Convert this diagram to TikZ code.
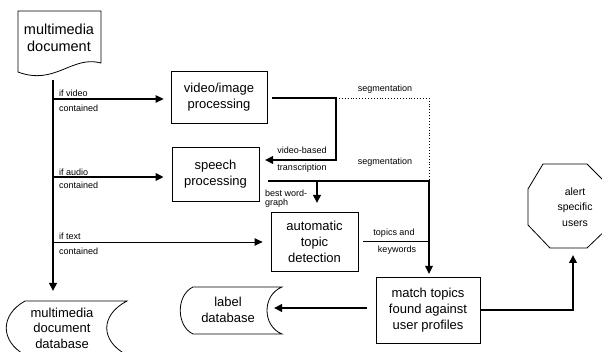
\documentclass[tikz,border=0pt]{standalone}
\usepackage{fontspec}
\setmainfont{Liberation Sans}
\usetikzlibrary{arrows.meta,calc}
\tikzset{
  box/.style={draw, line width=0.8pt, minimum width=#1, align=center, inner sep=0pt, font=\fontsize{13}{16}\selectfont},
  lbl/.style={font=\fontsize{9}{10}\selectfont, inner sep=0pt},
  big/.style={font=\fontsize{14.5}{17}\selectfont, align=center, inner sep=0pt},
  mid/.style={font=\fontsize{13}{15.5}\selectfont, align=center, inner sep=0pt},
  tip/.style={-{Triangle[length=8pt,width=7.5pt]}},
  thick2/.style={line width=2pt},
  thick1/.style={line width=1.3pt},
  thin1/.style={line width=0.9pt},
  outline/.style={draw, line width=0.8pt},
}
\begin{document}
\begin{tikzpicture}[x=1pt,y=-1pt]
\useasboundingbox (0,0) rectangle (602,352);
\clip (0,0) rectangle (602,352);
% multimedia document (document shape)
\draw[outline] (18,11) -- (101,11) -- (101,63) .. controls (72,55) and (55,86) .. (18,72) -- cycle;
\node[big] (doc) at (59,38) {multimedia\\document};
\coordinate (docbot) at (53,80);
% boxes
\node[box=96pt, minimum height=52pt] (vid) at (219,97) {video/image\\processing};
\node[box=87pt, minimum height=54pt] (sp) at (215.5,174) {speech\\processing};
\node[box=87pt, minimum height=59pt] (top) at (314.5,241.5) {automatic\\topic\\detection};
\node[box=104pt, minimum height=66pt] (match) at (428,310) {match topics\\found against\\user profiles};
% label database (stored data)
\draw[outline] (193,287) -- (282,287) .. controls (262,295) and (262,326) .. (282,334) -- (193,334) .. controls (176,326) and (176,295) .. (193,287);
\node[mid] (labeldb) at (228,310) {label\\database};
% multimedia document database
\draw[outline] (25,301) -- (127,301) .. controls (100,315) and (100,341) .. (127,355) -- (25,355) .. controls (0,341) and (0,315) .. (25,301);
\node[mid] (mmdb) at (62,328) {multimedia\\document\\database};
% octagon
\draw[outline] (543,164) -- (587,164) -- (611,188) -- (611,225) -- (587,248) -- (550,248) -- (528,225) -- (528,189) -- cycle;
\node[font=\fontsize{10.5}{15.5}\selectfont, align=center, inner sep=0pt] (alert) at (575,207) {alert\\specific\\users};
% coordinates
\coordinate (mainend) at (53,291);
\coordinate (vb) at (53,99);
\coordinate (ab) at (53,177);
\coordinate (tb) at (53,242);
\coordinate (vidout) at (272,98);
\coordinate (vturn) at (336,98);
\coordinate (vdown) at (336,160);
\coordinate (vtip) at (265,160);
\coordinate (segcorner) at (429,98);
\coordinate (segend) at (429,181);
\coordinate (spout) at (268,181);
\coordinate (spcorner) at (429,181);
\coordinate (matchtip) at (429,274);
\coordinate (bwstart) at (317,181);
\coordinate (bwtip) at (317,203);
\coordinate (topout) at (363,241);
\coordinate (topjoin) at (429,241);
\coordinate (mleft) at (367,308);
\coordinate (ldbtip) at (274,308);
\coordinate (mright) at (480,310);
\coordinate (acorner) at (573,310);
\coordinate (atip) at (573,255);
% main trunk
\draw[thick2, tip] (docbot) -- (mainend);
\draw[thick1, tip] (vb) -- ($(vid.west |- vb)+(-7,0)$);
\draw[thick2, tip] (ab) -- ($(sp.west |- ab)+(-8,0)$);
\draw[thin1, tip] (tb) -- ($(top.west |- tb)+(-8,0)$);
\node[lbl, anchor=west] (l1) at (59,93) {if video};
\node[lbl, anchor=west] (l2) at (59,108) {contained};
\node[lbl, anchor=west] (l3) at (59,172) {if audio};
\node[lbl, anchor=west] (l4) at (59,185) {contained};
\node[lbl, anchor=west] (l5) at (59,236) {if text};
\node[lbl, anchor=west] (l6) at (59,251) {contained};
% video output
\draw[thick2, tip] (vidout) -- (vturn) -- (vdown) -- (vtip);
\draw[thin1, dotted] (vturn) -- (segcorner) -- (segend);
\node[lbl] (seg1) at (385,89) {segmentation};
\node[lbl] (vb1) at (302,150) {video-based};
\node[lbl] (vb2) at (302,168) {transcription};
% speech output
\draw[thick1, tip] (spout) -- (spcorner) -- (matchtip);
\draw[thick2, tip] (bwstart) -- (bwtip);
\node[lbl] (seg2) at (385,162) {segmentation};
\node[lbl, anchor=west] (bw1) at (265,193) {best word-};
\node[lbl, anchor=west] (bw2) at (265,203) {graph};
% topics
\draw[thin1] (topout) -- (topjoin);
\node[lbl] (tk1) at (394,233) {topics and};
\node[lbl] (tk2) at (397,250) {keywords};
% match outputs
\draw[thick2, tip] (mleft) -- (ldbtip);
\draw[thick2, tip] (mright) -- (acorner) -- (atip);
\end{tikzpicture}
\end{document}
